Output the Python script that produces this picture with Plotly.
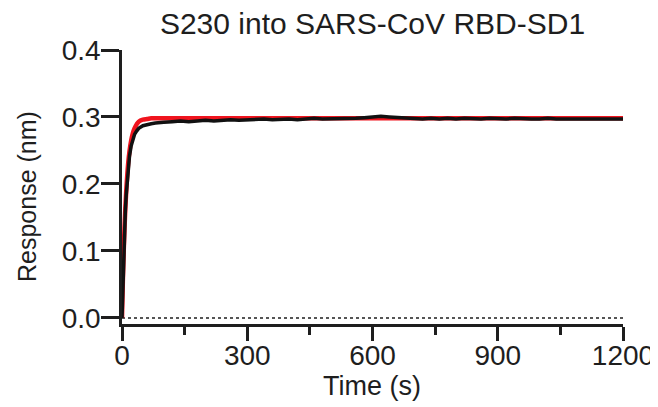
import plotly.graph_objects as go

# ---- data ----
fit_time = [0, 2, 4, 6, 8, 10, 12, 15, 18, 22, 26, 30, 35, 40, 50, 60, 70, 80,
            100, 130, 160, 200, 300, 400, 600, 800, 1000, 1200]
fit_resp = [0.000, 0.054, 0.098, 0.134, 0.164, 0.188, 0.208, 0.232, 0.249, 0.265,
            0.276, 0.283, 0.289, 0.293, 0.296, 0.297, 0.298, 0.298,
            0.298, 0.298, 0.298, 0.298, 0.298, 0.298, 0.298, 0.298, 0.298, 0.298]

data_time = [0, 2, 4, 6, 8, 10, 12, 15, 18, 22, 26, 30, 35, 40, 50, 60, 70, 80, 90,
             100, 120, 140, 160, 180, 200, 220, 240, 260, 280, 300, 320, 340, 360,
             380, 400, 420, 440, 460, 480, 500, 520, 540, 560, 580, 600, 620, 640,
             660, 680, 700, 720, 740, 760, 780, 800, 820, 840, 860, 880, 900, 920,
             940, 960, 980, 1000, 1020, 1040, 1060, 1080, 1100, 1120, 1140, 1160,
             1180, 1200]
data_resp = [0.000, 0.050, 0.094, 0.131, 0.160, 0.183, 0.202, 0.225, 0.242, 0.257,
             0.267, 0.274, 0.279, 0.283, 0.287, 0.289, 0.290, 0.291, 0.292,
             0.292, 0.293, 0.294, 0.293, 0.294, 0.295, 0.294, 0.295, 0.296, 0.295,
             0.296, 0.296, 0.297, 0.296, 0.297, 0.297, 0.296, 0.297, 0.298, 0.297,
             0.297, 0.298, 0.297, 0.298, 0.299, 0.300, 0.301, 0.300,
             0.299, 0.298, 0.298, 0.297, 0.298, 0.297, 0.298, 0.297, 0.298, 0.297,
             0.297, 0.298, 0.297, 0.297, 0.298, 0.297, 0.297, 0.297, 0.298, 0.297,
             0.297, 0.297, 0.296, 0.297, 0.297, 0.297, 0.296, 0.297]

baseline_time = [0, 1200]
baseline_resp = [0, 0]

x_ticks = [0, 300, 600, 900, 1200]
y_ticks = [0.0, 0.1, 0.2, 0.3, 0.4]

title_text = "S230 into SARS-CoV RBD-SD1"
x_title = "Time (s)"
y_title = "Response (nm)"

FONT = "Liberation Sans, Arial, sans-serif"
INK = "#1e1e1e"
W, H = 658, 407
OFF = 8  # page body margin offset
# target pixel geometry in the window
PL, PR, PT, PB = 122, 623, 50, 324
ML, MT = PL - OFF, PT - OFF
MR = W - (PR - OFF)
MB = H - (PB - OFF)

fig = go.Figure()
fig.add_trace(go.Scatter(x=baseline_time, y=baseline_resp, mode="lines",
                         line=dict(color="#555555", width=2, dash="dot"),
                         hoverinfo="skip", showlegend=False))
fig.add_trace(go.Scatter(x=fit_time, y=fit_resp, mode="lines",
                         line=dict(color="rgb(240,20,30)", width=4.5, shape="spline"),
                         showlegend=False))
fig.add_trace(go.Scatter(x=data_time, y=data_resp, mode="lines",
                         line=dict(color="#111111", width=3.5),
                         showlegend=False))

fig.update_layout(
    width=W, height=H,
    margin=dict(l=ML, r=MR, t=MT, b=MB, autoexpand=False),
    paper_bgcolor="white", plot_bgcolor="white",
    font=dict(family=FONT, size=28, color=INK),
    title=dict(text=title_text, x=((PL + PR) / 2 - OFF) / W, xanchor="center", xref="container",
               y=1 - (23 - OFF) / H, yanchor="middle", yref="container",
               font=dict(family=FONT, size=30, color=INK)),
    showlegend=False,
)
fig.update_xaxes(
    range=[0, 1200], tickvals=x_ticks, ticktext=[str(v) for v in x_ticks],
    showline=True, linecolor=INK, linewidth=2.5,
    ticks="outside", ticklen=14, tickwidth=2.5, tickcolor=INK,
    minor=dict(dtick=150, ticks="outside", ticklen=8, tickwidth=2.5, tickcolor=INK, showgrid=False),
    showgrid=False, zeroline=False, automargin=False,
    ticklabelstandoff=-9,
    tickfont=dict(family=FONT, size=28, color=INK),
)
fig.update_yaxes(
    range=[-0.009, 0.4], tickvals=y_ticks, ticktext=[f"{v:.1f}" for v in y_ticks],
    showline=True, linecolor=INK, linewidth=2.5,
    ticks="outside", ticklen=18, tickwidth=2.5, tickcolor=INK,
    showgrid=False, zeroline=False, automargin=False,
    ticklabelstandoff=-5,
    tickfont=dict(family=FONT, size=28, color=INK),
)

# axis titles placed as annotations (paper coordinates from window-pixel targets)
plot_w = PR - PL
plot_h = PB - PT
def px_to_paper(px, py):
    return (px - PL) / plot_w, 1 - (py - PT) / plot_h

ax_x, ax_y = px_to_paper(372, 386)
fig.add_annotation(text=x_title, x=ax_x, y=ax_y, xref="paper", yref="paper",
                   xanchor="center", yanchor="middle", showarrow=False,
                   font=dict(family=FONT, size=27, color=INK))
ay_x, ay_y = px_to_paper(27, 197)
fig.add_annotation(text=y_title, x=ay_x, y=ay_y, xref="paper", yref="paper",
                   xanchor="center", yanchor="middle", showarrow=False, textangle=-90,
                   font=dict(family=FONT, size=25, color=INK))

fig.write_html("out.html")
